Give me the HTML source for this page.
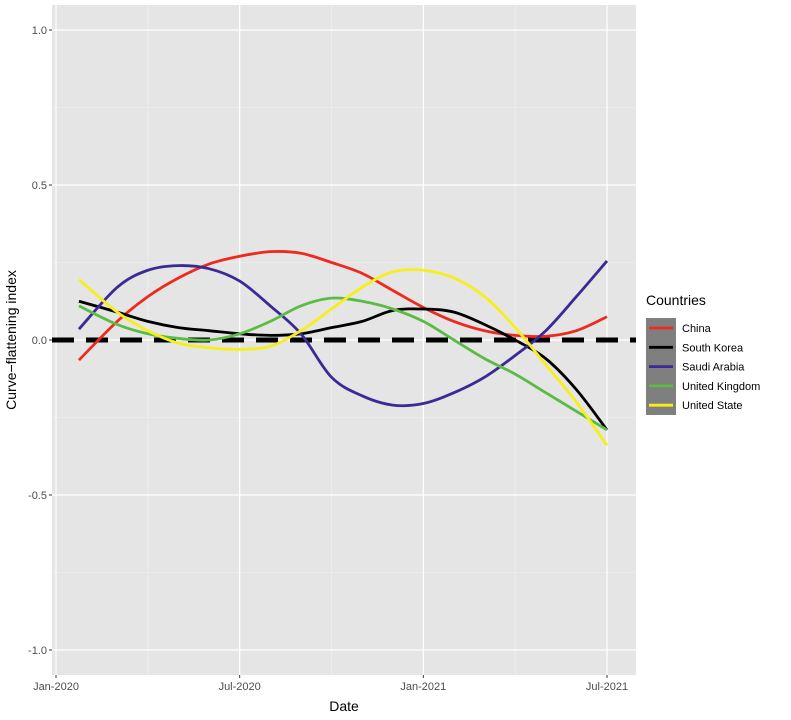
<!DOCTYPE html>
<html><head><meta charset="utf-8"><style>
body{margin:0;background:#fff;font-family:"Liberation Sans",sans-serif}
</style></head><body>
<svg id="chart" width="791" height="715" xmlns="http://www.w3.org/2000/svg"></svg>
<script>
const monthsX=[0.75,2,3,4,5,6,7,8,9,10,11,12,13,14,15,16,17,18];
const seriesNames=["China","South Korea","Saudi Arabia","United Kingdom","United State"];
const seriesColors=["#ee2a1f","#000000","#3b2a96","#5bbb45","#f7ef1a"];
const china=[-0.065,0.06,0.14,0.2,0.245,0.27,0.285,0.28,0.25,0.215,0.16,0.105,0.06,0.03,0.015,0.012,0.03,0.075];
const southKorea=[0.125,0.09,0.06,0.04,0.03,0.02,0.015,0.02,0.04,0.06,0.095,0.1,0.09,0.05,0.0,-0.06,-0.16,-0.29];
const saudi=[0.035,0.17,0.225,0.24,0.23,0.19,0.11,0.02,-0.12,-0.18,-0.21,-0.205,-0.17,-0.12,-0.05,0.03,0.14,0.255];
const uk=[0.11,0.05,0.02,0.005,0.0,0.02,0.06,0.11,0.135,0.125,0.1,0.06,0.0,-0.06,-0.11,-0.17,-0.23,-0.29];
const us=[0.195,0.09,0.03,-0.01,-0.025,-0.03,-0.02,0.03,0.1,0.17,0.22,0.225,0.2,0.14,0.04,-0.08,-0.2,-0.34];
const allSeries=[china,southKorea,saudi,uk,us];
const yTicks=[1.0,0.5,0.0,-0.5,-1.0];
const yTickLabels=["1.0","0.5","0.0","-0.5","-1.0"];
const xTicks=[0,6,12,18];
const xTickLabels=["Jan-2020","Jul-2020","Jan-2021","Jul-2021"];
const xMinor=[3,9,15];
const yMinor=[0.75,0.25,-0.25,-0.75];

const svg=document.getElementById('chart');
const NS="http://www.w3.org/2000/svg";
const L=52,R=636,T=5,B=675;
const xs=m=>56+m*(607-56)/18;
const ys=v=>340-v*310;
function el(t,a,p){const e=document.createElementNS(NS,t);for(const k in a)e.setAttribute(k,a[k]);(p||svg).appendChild(e);return e;}
const panel=el('rect',{x:L,y:T,width:R-L,height:B-T,fill:'#e5e5e5'});


yMinor.forEach(v=>{const g=el('line',{x1:L,x2:R,y1:ys(v),y2:ys(v),stroke:'#f2f2f2','stroke-width':0.6});

});
xMinor.forEach(m=>{const g=el('line',{x1:xs(m),x2:xs(m),y1:T,y2:B,stroke:'#f2f2f2','stroke-width':0.6});

});
yTicks.forEach((v,i)=>{const g=el('line',{x1:L,x2:R,y1:ys(v),y2:ys(v),stroke:'#fff','stroke-width':1.2});


el('line',{x1:L-3,x2:L,y1:ys(v),y2:ys(v),stroke:'#333'});
const t=el('text',{x:L-5,y:ys(v)+4,'text-anchor':'end','font-size':11,fill:'#4d4d4d'});t.textContent=yTickLabels[i];

});
xTicks.forEach((m,i)=>{const g=el('line',{x1:xs(m),x2:xs(m),y1:T,y2:B,stroke:'#fff','stroke-width':1.2});


el('line',{x1:xs(m),x2:xs(m),y1:B,y2:B+3,stroke:'#333'});
const t=el('text',{x:xs(m),y:B+15,'text-anchor':'middle','font-size':11,fill:'#4d4d4d'});t.textContent=xTickLabels[i];

});
const ref=el('line',{x1:L,x2:R,y1:ys(0),y2:ys(0),stroke:'#000','stroke-width':5,'stroke-dasharray':'22,12'});


function path(vals){const p=monthsX.map((m,i)=>[xs(m),ys(vals[i])]);let d=`M${p[0][0]},${p[0][1]}`;
for(let i=0;i<p.length-1;i++){const p0=p[Math.max(0,i-1)],p1=p[i],p2=p[i+1],p3=p[Math.min(p.length-1,i+2)];
d+=` C${p1[0]+(p2[0]-p0[0])/6},${p1[1]+(p2[1]-p0[1])/6} ${p2[0]-(p3[0]-p1[0])/6},${p2[1]-(p3[1]-p1[1])/6} ${p2[0]},${p2[1]}`;}return d;}
allSeries.forEach((s,i)=>{const ln=el('path',{d:path(s),fill:'none',stroke:seriesColors[i],'stroke-width':2.8});

});
const xt=el('text',{x:344,y:711,'text-anchor':'middle','font-size':14,fill:'#000'});xt.textContent='Date';


const yt=el('text',{x:0,y:0,'text-anchor':'middle','font-size':14,fill:'#000',transform:`translate(16,${ys(0)}) rotate(-90)`});yt.textContent='Curve−flattening index';


const lt=el('text',{x:646,y:305,'font-size':14,fill:'#000'});lt.textContent='Countries';


const lbg=el('rect',{x:646,y:318,width:30,height:97,fill:'#7f7f7f'});


seriesNames.forEach((n,i)=>{const cy=328+i*19.3;
const k=el('line',{x1:649,x2:673,y1:cy,y2:cy,stroke:seriesColors[i],'stroke-width':2.8});


const t=el('text',{x:682,y:cy+4,'font-size':11,fill:'#000'});t.textContent=n;

});
</script>
</body></html>
